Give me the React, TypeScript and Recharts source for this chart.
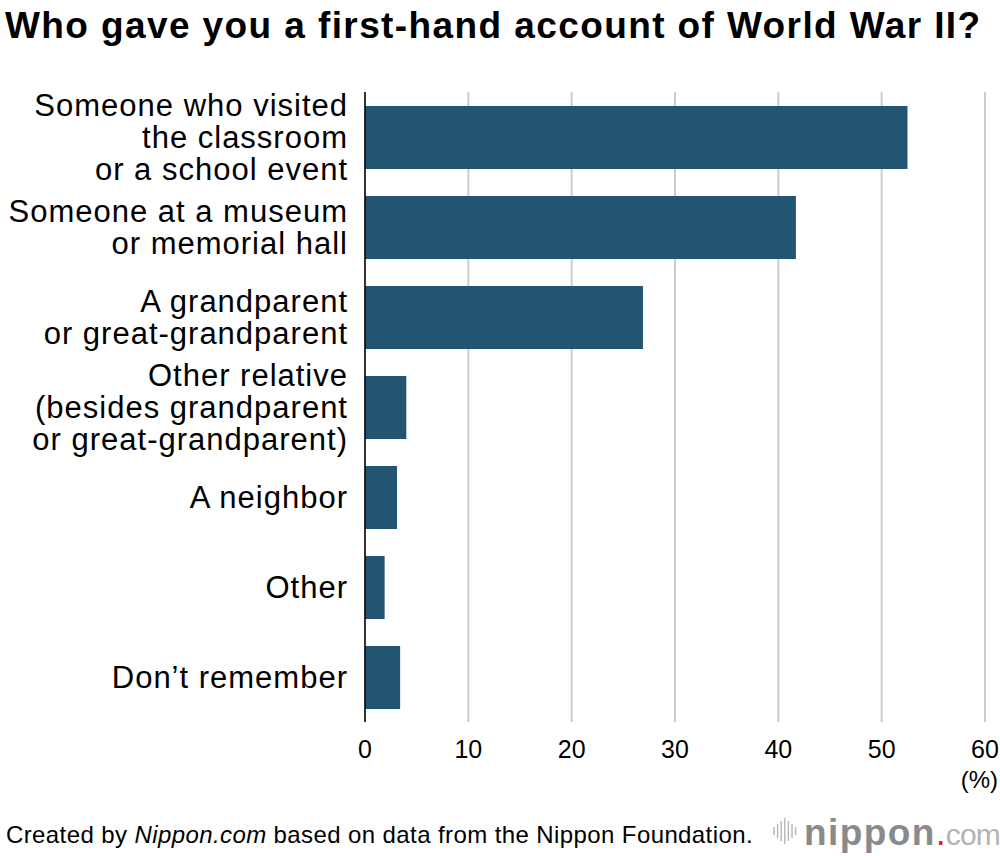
import React from "react"
import { BarChart, Bar, XAxis, YAxis, CartesianGrid } from "recharts"

// survey answers, top to bottom
const categories = [
  "Someone who visited\nthe classroom\nor a school event",
  "Someone at a museum\nor memorial hall",
  "A grandparent\nor great-grandparent",
  "Other relative\n(besides grandparent\nor great-grandparent)",
  "A neighbor",
  "Other",
  "Don’t remember",
]
const shares = [52.5, 41.7, 26.9, 4.0, 3.1, 1.9, 3.4]
const xTicks = [0, 10, 20, 30, 40, 50, 60]

const data = categories.map((label, i) => ({ label, share: shares[i] }))

const FONT = '"Liberation Sans", Arial, Helvetica, sans-serif'

const CategoryTick = (props: any) => {
  const { y, payload } = props
  const lines = String(payload.value).split("\n")
  const lh = 31.6
  const first = 11 - ((lines.length - 1) * lh) / 2
  return (
    <text
      x={348}
      y={y}
      textAnchor="end"
      fill="#000"
      fontSize={31}
      letterSpacing={1}
      fontFamily={FONT}
    >
      {lines.map((line, i) => (
        <tspan key={i} x={348} dy={i === 0 ? first : lh}>
          {line}
        </tspan>
      ))}
    </text>
  )
}

const Barcode = () => {
  const hs = [8, 14, 20, 26, 20, 14, 8]
  return (
    <svg width={26} height={28} style={{ verticalAlign: "middle" }}>
      {hs.map((h, i) => (
        <line key={i} x1={2 + i * 3.6} x2={2 + i * 3.6} y1={14 - h / 2} y2={14 + h / 2} stroke="#b5b5b5" strokeWidth={1.4} />
      ))}
    </svg>
  )
}

export default function App() {
  return (
    <div style={{ position: "absolute", left: 0, top: 0, width: 1000, height: 856, background: "#fff", fontFamily: FONT, color: "#000", overflow: "hidden" }}>
      <div style={{ position: "absolute", left: 5, top: 5, fontSize: 37, letterSpacing: 1.4, fontWeight: 700, whiteSpace: "nowrap" }}>
        Who gave you a first-hand account of World War II?
      </div>
      <BarChart
        width={1000}
        height={856}
        layout="vertical"
        data={data}
        margin={{ top: 92, right: 15, bottom: 94, left: 0 }}
        style={{ position: "absolute", left: 0, top: 0 }}
      >
        <CartesianGrid horizontal={false} stroke="#cccccc" strokeWidth={2} />
        <XAxis
          type="number"
          domain={[0, 60]}
          ticks={xTicks}
          axisLine={false}
          tickLine={false}
          height={40}
          tick={{ fontSize: 25, fill: "#000", fontFamily: FONT }}
          tickMargin={12}
        />
        <YAxis
          type="category"
          dataKey="label"
          width={365}
          axisLine={{ stroke: "#000", strokeWidth: 1.5 }}
          tickLine={false}
          tick={<CategoryTick />}
        />
        <Bar dataKey="share" fill="#235573" barSize={63} isAnimationActive={false} />
      </BarChart>
      <div style={{ position: "absolute", right: 2, top: 766, fontSize: 24 }}>(%)</div>
      <div style={{ position: "absolute", left: 6, top: 821, fontSize: 24, letterSpacing: 0.4, whiteSpace: "nowrap" }}>
        Created by <i>Nippon.com</i> based on data from the Nippon Foundation.
      </div>
      <div style={{ position: "absolute", left: 772, top: 812, whiteSpace: "nowrap", display: "flex", alignItems: "baseline" }}>
        <Barcode />
        <span style={{ fontSize: 37, fontWeight: 700, letterSpacing: 1.4, color: "#8a8a8a", marginLeft: 6 }}>nippon</span>
        <span style={{ fontSize: 36, color: "#e8232a" }}>.</span>
        <span style={{ fontSize: 30, letterSpacing: -0.8, color: "#b3b3b3" }}>com</span>
      </div>
    </div>
  )
}
